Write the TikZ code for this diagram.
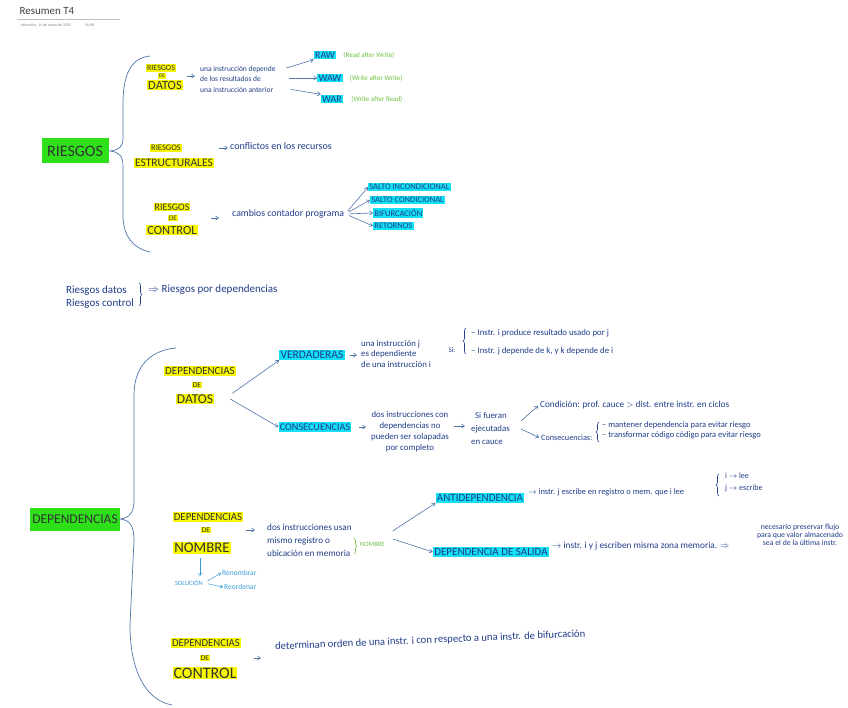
\documentclass[tikz,border=0pt]{standalone}
\usepackage{fontspec}
\setmainfont{Carlito}
\usetikzlibrary{arrows.meta, positioning, decorations.pathreplacing}
\definecolor{ink}{HTML}{1F3C88}
\definecolor{hlyellow}{HTML}{F7F700}
\definecolor{hlgreen}{HTML}{2EE01A}
\definecolor{hlcyan}{HTML}{14E0F5}
\definecolor{notegreen}{HTML}{6CC040}
\definecolor{noteblue}{HTML}{3A9AD9}
\definecolor{branchcol}{HTML}{4F74A8}
\newcommand{\fsz}[1]{\fontsize{#1}{#1}\selectfont}

\begin{document}
\begin{tikzpicture}[
  x=1pt, y=-1pt,
  root/.style={fill=hlgreen, text=black!80, inner sep=2pt},
  hly/.style={fill=hlyellow, text=black!80, inner sep=1pt},
  hlc/.style={fill=hlcyan, text=ink, inner sep=1.2pt},
  note/.style={text=ink, font=\fontsize{9}{10.5}\selectfont, align=left, inner sep=1pt},
  gnote/.style={text=notegreen, font=\fsz{7}, inner sep=1pt},
  bnote/.style={text=noteblue, font=\fsz{6.5}, inner sep=1pt},
  arr/.style={-{Straight Barb[length=3pt, width=4pt]}, branchcol, line width=0.6pt},
  barr/.style={-{Straight Barb[length=2.5pt, width=3.5pt]}, noteblue, line width=0.5pt},
  branch/.style={draw=branchcol, line width=0.7pt},
  bracket/.style={decorate, decoration={brace, amplitude=3pt}, line width=0.6pt}
]
  \useasboundingbox (0,0) rectangle (848,708);

  % header
  \node[anchor=west, font=\fsz{11}, text=black!75] (title) at (16,11) {Resumen T4};
  \draw[gray!50] (17,19) -- (120,19);
  \node[anchor=west, font=\fsz{4}, text=gray] (date) at (17,25) {miércoles, 14 de mayo de 2025 \hspace{12pt} 16:48};

  % ---- RIESGOS ----
  \node[root, font=\fsz{16}, minimum width=67, minimum height=25] (riesgos) at (75,151) {RIESGOS};
  \draw[branch] (150,56) .. controls (132,58) and (124,72) .. (123,100) -- (123,138)
    .. controls (123,147) and (119,150) .. (110,151)
    .. controls (119,152) and (123,156) .. (123,166) -- (123,215)
    .. controls (123,235) and (132,248) .. (150,252);

  % riesgos de datos
  \node[hly, font=\fsz{8}] (rdA) at (161,68) {RIESGOS};
  \node[hly, font=\fsz{5.5}] (rdB) at (162,76) {DE};
  \node[hly, font=\fsz{12.5}] (rdC) at (165,85) {DATOS};
  \node[note, font=\fontsize{7.5}{10.5}\selectfont, anchor=west] (rdDesc) at (199,79) {una instrucción depende\\de los resultados de\\una instrucción anterior};
  \draw[arr, shorten <=21pt, shorten >=4pt] (rdB.east) -- (rdDesc.west |- rdB.east);

  \node[hlc, font=\fsz{10}] (raw) at (325,55) {RAW};
  \node[hlc, font=\fsz{10}] (waw) at (330,78) {WAW};
  \node[hlc, font=\fsz{10}] (war) at (332,99) {WAR};
  \node[gnote, right=6pt of raw] (rawTxt) {(Read after Write)};
  \node[gnote, right=6pt of waw] (wawTxt) {(Write after Write)};
  \node[gnote, right=7pt of war] (warTxt) {(Write after Read)};
  \draw[arr, shorten <=10pt] (rdDesc.east |- 0,71) -- (raw.south west);
  \draw[arr, shorten <=12pt] (rdDesc.east |- waw) -- (waw.west);
  \draw[arr, shorten <=14pt] (rdDesc.east |- 0,87) -- (war.north west);

  % riesgos estructurales
  \node[hly, font=\fsz{8.5}] (reA) at (166,148) {RIESGOS};
  \node[hly, font=\fsz{11.5}] (reB) at (174,163) {ESTRUCTURALES};
  \node[note, font=\fsz{10}, anchor=west] (reDesc) at (229,146) {conflictos en los recursos};
  \draw[arr, shorten <=37pt, shorten >=1pt] (reA.east) -- (reDesc.west |- reA.east);

  % riesgos de control
  \node[hly, font=\fsz{10}] (rcA) at (172,207) {RIESGOS};
  \node[hly, font=\fsz{7}] (rcB) at (173,218) {DE};
  \node[hly, font=\fsz{12.5}] (rcC) at (172,230) {CONTROL};
  \node[note, font=\fsz{9.8}, anchor=west] (rcDesc) at (231,214) {cambios contador programa};
  \draw[arr, shorten <=33pt, shorten >=12pt] (rcB.east) -- (rcDesc.west |- rcB.east);

  \node[hlc, font=\fsz{8.5}, anchor=west] (sinc) at (368,187) {SALTO INCONDICIONAL};
  \node[hlc, font=\fsz{8.5}, anchor=west] (scon) at (370,200) {SALTO CONDICIONAL};
  \node[hlc, font=\fsz{8.5}, anchor=west] (bifu) at (373,213) {BIFURCACIÓN};
  \node[hlc, font=\fsz{8.5}, anchor=west] (reto) at (373,226) {RETORNOS};
  \foreach \dst in {sinc, scon, bifu, reto}
    \draw[arr, shorten <=4pt] (rcDesc.east) -- (\dst.west);

  % resumen
  \node[note, font=\fontsize{11}{13}\selectfont, anchor=west] (rsum) at (65,297) {Riesgos datos\\Riesgos control};
  \draw[ink, bracket] (139,283) -- (139,306);
  \node[note, font=\fsz{11}, anchor=west] (rdep) at (147,290) {$\Rightarrow$ Riesgos por dependencias};

  % ---- DEPENDENCIAS ----
  \node[root, font=\fsz{13.5}, minimum width=90, minimum height=23] (deps) at (75,519) {DEPENDENCIAS};
  \draw[branch] (176,348) .. controls (152,350) and (134,365) .. (134,395) -- (134,500)
    .. controls (134,512) and (130,518) .. (120,519)
    .. controls (130,520) and (134,526) .. (134,540) -- (130,625)
    .. controls (130,670) and (145,700) .. (172,705);

  % dependencias de datos
  \node[hly, font=\fsz{11}] (ddA) at (200,371) {DEPENDENCIAS};
  \node[hly, font=\fsz{7.5}] (ddB) at (197,385) {DE};
  \node[hly, font=\fsz{13.5}] (ddC) at (195,399) {DATOS};
  \node[hlc, font=\fsz{11.5}] (verd) at (312,355) {VERDADERAS};
  \node[hlc, font=\fsz{10.2}] (cons) at (315,427) {CONSECUENCIAS};
  \draw[arr] ([xshift=18pt]ddC.north east) -- (verd.south west);
  \draw[arr] ([xshift=16pt]ddC.east) -- (cons.west);

  \node[note, font=\fontsize{8.8}{10.2}\selectfont, anchor=west] (verdDesc) at (360,354) {una instrucción j\\es dependiente\\de una instrucción i};
  \draw[arr, shorten <=5pt, shorten >=3pt] (verd.east) -- (verdDesc.west |- verd.east);
  \node[note, font=\fsz{7}] (siCond) at (452,350) {Si:};
  \draw[ink, bracket] (466,354) -- (466,328);
  \node[note, font=\fsz{8.8}, anchor=west] (si1) at (470,333) {– Instr. i produce resultado usado por j};
  \node[note, font=\fsz{8.8}, anchor=west] (si2) at (470,351) {– Instr. j depende de k, y k depende de i};

  \node[note, font=\fontsize{8.8}{11}\selectfont, align=center, anchor=west] (consDesc) at (370,432) {dos instrucciones con\\dependencias no\\pueden ser solapadas\\por completo};
  \draw[arr, shorten <=7pt, shorten >=4pt] (cons.east) -- (consDesc.west |- cons.east);
  \node[note, font=\fontsize{8.8}{13}\selectfont, anchor=west] (cauce) at (470,429) {\hspace{4pt}Si fueran\\ejecutadas\\en cauce};
  \draw[arr, shorten <=4pt, shorten >=5pt] (consDesc.east |- 0,426) -- (cauce.west |- 0,426);
  \node[note, font=\fsz{9.2}, anchor=west] (cond) at (539,405) {Condición: prof. cauce $>$ dist. entre instr. en ciclos};
  \node[note, font=\fsz{8.2}, anchor=west] (conseq) at (540,438) {Consecuencias:};
  \draw[ink, bracket] (599,442) -- (599,422);
  \node[note, font=\fsz{8.5}, anchor=west] (cq1) at (601,425) {– mantener dependencia para evitar riesgo};
  \node[note, font=\fsz{8.5}, anchor=west] (cq2) at (601,435) {– transformar código código para evitar riesgo};
  \draw[arr, shorten >=1pt] ([shift={(10,-8)}]cauce.east) -- (cond.west);
  \draw[arr, shorten >=1pt] ([xshift=10pt]cauce.east) -- (conseq.west);

  % dependencias de nombre
  \node[hly, font=\fsz{10.8}] (dnA) at (208,517) {DEPENDENCIAS};
  \node[hly, font=\fsz{7.5}] (dnB) at (206,530) {DE};
  \node[hly, font=\fsz{14.8}] (dnC) at (202,548) {NOMBRE};
  \node[note, font=\fontsize{9.2}{13}\selectfont, anchor=west] (dnDesc) at (266,540) {dos instrucciones usan\\mismo registro o\\ubicación en memoria};
  \draw[arr, shorten <=35pt, shorten >=11pt] (dnB.east) -- (dnDesc.west |- dnB.east);
  \draw[notegreen, bracket] (354,538) -- (354,554);
  \node[gnote, font=\fsz{6.5}, anchor=west] (nomG) at (359,544) {NOMBRE};

  \node[bnote] (sol) at (189,583) {SOLUCIÓN};
  \node[bnote, font=\fsz{7.5}, anchor=west] (ren) at (221,573) {Renombrar};
  \node[bnote, font=\fsz{7.5}, anchor=west] (reo) at (223,587) {Reordenar};
  \draw[barr, shorten <=4pt, shorten >=3pt] (dnC.south -| 200,0) -- (sol.north -| 200,0);
  \draw[barr, shorten <=4pt] (sol.east) -- (ren.west);
  \draw[barr, shorten <=4pt] (sol.east) -- (reo.west);

  \node[hlc, font=\fsz{11}] (anti) at (480,498) {ANTIDEPENDENCIA};
  \node[hlc, font=\fsz{11}] (sali) at (491,552) {DEPENDENCIA DE SALIDA};
  \draw[arr] ([shift={(7,-13)}]nomG.east) -- (anti.south west);
  \draw[arr] ([shift={(7,-5)}]nomG.east) -- (sali.west);

  \node[note, font=\fsz{8.4}, anchor=west] (antiDesc) at (527,492) {$\rightarrow$ instr. j escribe en registro o mem. que i lee};
  \draw[ink, bracket] (719,496) -- (719,474);
  \node[note, font=\fsz{8}, anchor=west] (iLee) at (724,476) {i $\rightarrow$ lee};
  \node[note, font=\fsz{8}, anchor=west] (jEsc) at (724,488) {j $\rightarrow$ escribe};

  \node[note, font=\fsz{9.3}, anchor=west] (saliDesc) at (551,546) {$\rightarrow$ instr. i y j escriben misma zona memoria. $\Rightarrow$};
  \node[note, font=\fontsize{7.8}{8.2}\selectfont, align=center] (presv) at (800,535) {necesario preservar flujo\\para que valor almacenado\\sea el de la última instr.};

  % dependencias de control
  \node[hly, font=\fsz{10.7}] (dcA) at (206,643) {DEPENDENCIAS};
  \node[hly, font=\fsz{7.5}] (dcB) at (205,658) {DE};
  \node[hly, font=\fsz{16}] (dcC) at (205,673) {CONTROL};
  \node[note, font=\fsz{10.6}, anchor=west, rotate=2.4] (dcDesc) at (274,647) {determinan orden de una instr. i con respecto a una instr. de bifurcación};
  \draw[arr, shorten <=44pt, shorten >=13pt] (dcB.east) -- (dcDesc.west |- dcB.east);
\end{tikzpicture}
\end{document}
